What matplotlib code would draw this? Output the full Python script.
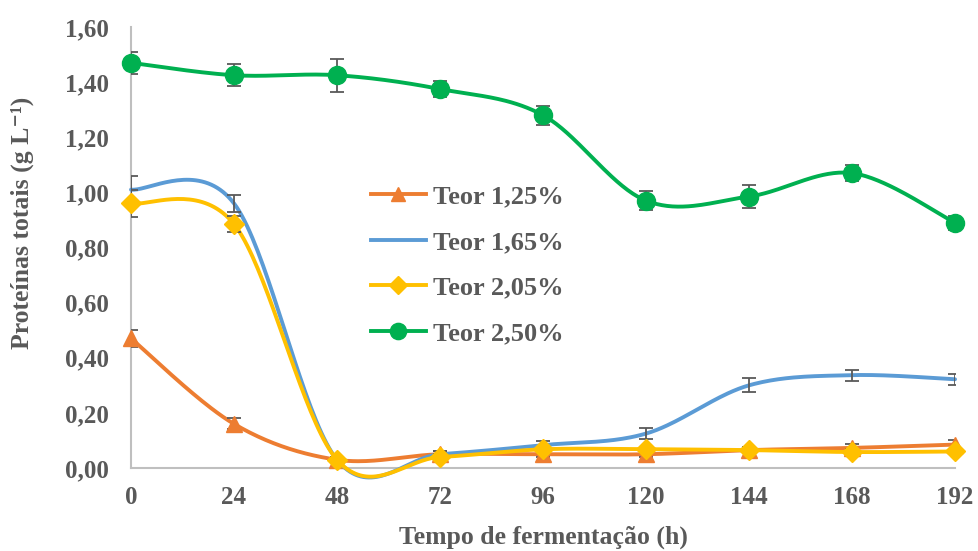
import numpy as np
import matplotlib.pyplot as plt
from matplotlib.lines import Line2D

plt.rcParams['font.family'] = ['Liberation Serif', 'DejaVu Serif']
plt.rcParams['font.weight'] = 'bold'

# fermentation time (h)
tempo = [0, 24, 48, 72, 96, 120, 144, 168, 192]

# total protein (g/L) per content level
teor_125 = [0.47, 0.16, 0.03, 0.05, 0.05, 0.05, 0.065, 0.073, 0.085]
teor_165 = [1.01, 0.96, 0.03, 0.05, 0.083, 0.125, 0.30, 0.337, 0.322]
teor_205 = [0.96, 0.885, 0.03, 0.04, 0.068, 0.068, 0.065, 0.058, 0.06]
teor_250 = [1.47, 1.425, 1.425, 1.375, 1.28, 0.97, 0.985, 1.07, 0.89]

# standard deviations
dp_125 = [0.03, 0.02, 0.01, 0.01, 0.01, 0.01, 0.01, 0.015, 0.015]
dp_165 = [0.05, 0.03, 0.01, 0.01, 0.015, 0.02, 0.025, 0.02, 0.02]
dp_205 = [0.05, 0.03, 0.01, 0.01, 0.01, 0.01, 0.01, 0.01, 0.01]
dp_250 = [0.04, 0.04, 0.06, 0.03, 0.035, 0.035, 0.04, 0.03, 0.025]

labels = ['Teor 1,25%', 'Teor 1,65%', 'Teor 2,05%', 'Teor 2,50%']
colors = ['#ED7D31', '#5B9BD5', '#FFC000', '#00B050']
markers = ['^', None, 'D', 'o']
msizes = [11, 0, 10, 13]
cinza = '#595959'


def suaviza(x, y, n=40):
    # catmull-rom spline, like Excel's smoothed line
    x = np.asarray(x, float)
    y = np.asarray(y, float)
    px = np.concatenate([[x[0]], x, [x[-1]]])
    py = np.concatenate([[y[0]], y, [y[-1]]])
    xs, ys = [], []
    t = np.linspace(0, 1, n)
    for i in range(1, len(px) - 2):
        p0, p1, p2, p3 = px[i-1], px[i], px[i+1], px[i+2]
        q0, q1, q2, q3 = py[i-1], py[i], py[i+1], py[i+2]
        h00 = 2*t**3 - 3*t**2 + 1
        h10 = t**3 - 2*t**2 + t
        h01 = -2*t**3 + 3*t**2
        h11 = t**3 - t**2
        xs.append(h00*p1 + h10*(p2-p0)/2 + h01*p2 + h11*(p3-p1)/2)
        ys.append(h00*q1 + h10*(q2-q0)/2 + h01*q2 + h11*(q3-q1)/2)
    return np.concatenate(xs), np.concatenate(ys)


fig = plt.figure(figsize=(9.79, 5.51), dpi=100)
ax = fig.add_axes([0.1338, 0.1506, 0.8417, 0.8004])

series = [teor_125, teor_165, teor_205, teor_250]
erros = [dp_125, dp_165, dp_205, dp_250]
handles = []
for k, (ys, err) in enumerate(zip(series, erros)):
    z = 3 + k
    sx, sy = suaviza(tempo, ys)
    ax.plot(sx, sy, color=colors[k], lw=2.8, zorder=z, clip_on=False,
            solid_capstyle='round')
    ax.errorbar(tempo, ys, yerr=err, fmt='none', ecolor=cinza, elinewidth=1.3,
                capsize=5, capthick=1.3, zorder=z)
    if markers[k]:
        ax.plot(tempo, ys, ls='none', marker=markers[k], ms=msizes[k],
                color=colors[k], zorder=z, clip_on=False)
    handles.append(Line2D([], [], color=colors[k], lw=2.8,
                          marker=markers[k] if markers[k] else None,
                          ms=msizes[k] * 0.9))

ax.set_xlim(0, 192)
ax.set_ylim(0, 1.6)
ax.set_xticks(tempo)
ax.set_yticks(np.arange(0, 1.61, 0.2))
ax.set_yticklabels([f'{v:.2f}'.replace('.', ',') for v in np.arange(0, 1.61, 0.2)])
ax.tick_params(length=0, labelsize=18, labelcolor=cinza)
ax.tick_params(axis='x', pad=13)
ax.tick_params(axis='y', pad=16)
for lab in ax.get_xticklabels() + ax.get_yticklabels():
    lab.set_fontweight('bold')

for s in ['top', 'right']:
    ax.spines[s].set_visible(False)
for s in ['left', 'bottom']:
    ax.spines[s].set_color('#BFBFBF')
    ax.spines[s].set_linewidth(1.5)

ax.set_xlabel('Tempo de fermentação (h)', fontsize=18.5, fontweight='bold',
              color=cinza, va='center')
ax.xaxis.set_label_coords(0.5, -0.156)
ax.set_ylabel('Proteínas totais (g L⁻¹)', fontsize=18.5,
              fontweight='bold', color=cinza, va='center')
ax.yaxis.set_label_coords(-0.132, 0.555)

leg = ax.legend(handles, labels, loc='upper left', bbox_to_anchor=(0.262, 0.695),
                frameon=False, fontsize=19, handlelength=2.1, labelspacing=0.83,
                handletextpad=0.25)
for t in leg.get_texts():
    t.set_color(cinza)
    t.set_fontweight('bold')

fig.savefig('out.png', dpi=100)
